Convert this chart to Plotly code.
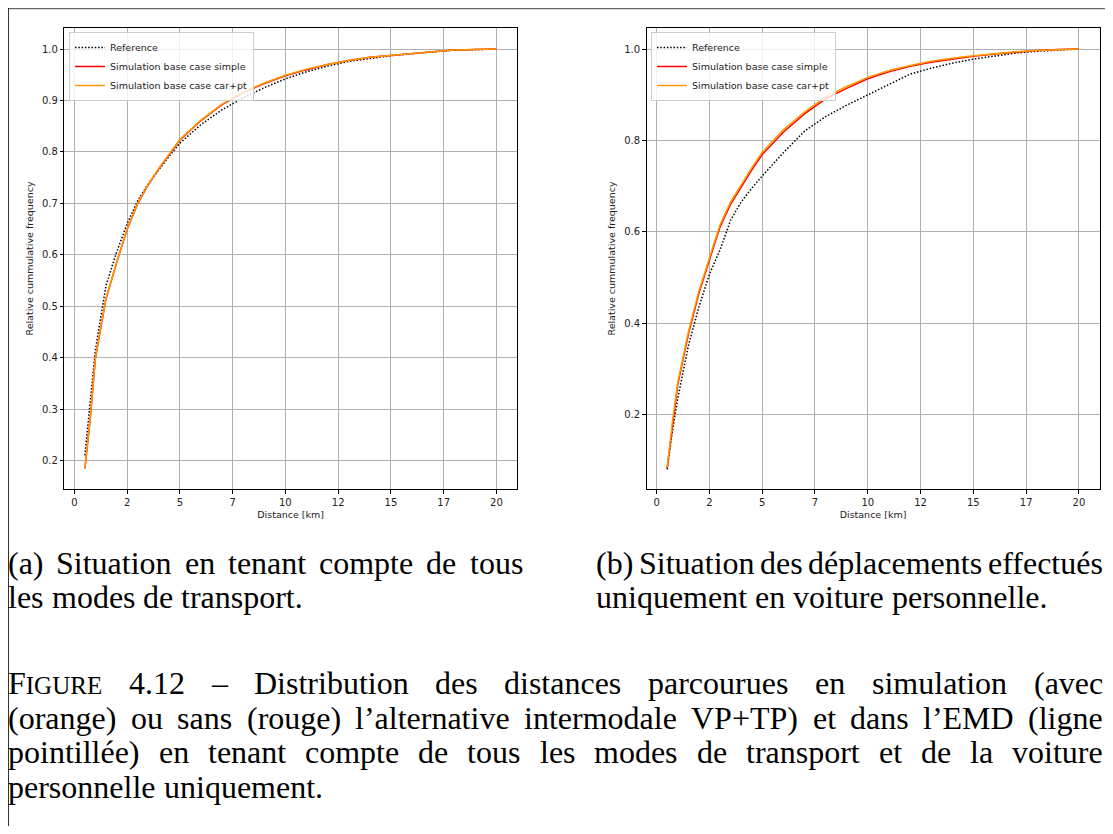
import plotly.graph_objects as go

# ---------------- data ----------------
distance_km = [0.5, 0.75, 1.0, 1.5, 2.0, 2.5, 3.0, 3.5, 4.0, 4.5, 5.0, 6.0, 7.0, 8.0,
               9.0, 10.0, 11.0, 12.0, 13.0, 14.0, 15.0, 16.0, 17.0, 18.0, 19.0, 20.0]

# (a) all transport modes
a_reference = [0.21, 0.31, 0.415, 0.54, 0.605, 0.66, 0.705, 0.738, 0.766, 0.792, 0.817, 0.853,
               0.882, 0.905, 0.925, 0.942, 0.956, 0.967, 0.976, 0.982, 0.987, 0.991, 0.995,
               0.998, 0.999, 1.0]
a_sim_simple = [0.184, 0.279, 0.399, 0.514, 0.584, 0.649, 0.699, 0.736, 0.767, 0.796, 0.823,
                0.861, 0.892, 0.915, 0.933, 0.948, 0.960, 0.970, 0.978, 0.984, 0.988, 0.992,
                0.995, 0.998, 0.999, 1.0]
a_sim_carpt = [0.185, 0.28, 0.40, 0.515, 0.585, 0.65, 0.70, 0.737, 0.768, 0.797, 0.824, 0.862,
               0.893, 0.916, 0.934, 0.949, 0.961, 0.970, 0.978, 0.984, 0.988, 0.992, 0.995,
               0.998, 0.999, 1.0]

# (b) personal car only
b_reference = [0.08, 0.165, 0.235, 0.35, 0.435, 0.507, 0.56, 0.625, 0.665, 0.695, 0.722, 0.773,
               0.82, 0.852, 0.877, 0.90, 0.922, 0.945, 0.958, 0.969, 0.978, 0.985, 0.991,
               0.995, 0.998, 1.0]
b_sim_simple = [0.083, 0.18, 0.265, 0.375, 0.465, 0.538, 0.61, 0.66, 0.698, 0.735, 0.769, 0.818,
                0.858, 0.891, 0.914, 0.935, 0.95, 0.962, 0.971, 0.978, 0.984, 0.989, 0.993,
                0.997, 0.999, 1.0]
b_sim_carpt = [0.085, 0.185, 0.27, 0.38, 0.47, 0.543, 0.615, 0.665, 0.703, 0.74, 0.774, 0.823,
               0.862, 0.895, 0.918, 0.938, 0.953, 0.964, 0.973, 0.980, 0.985, 0.990, 0.994,
               0.997, 0.999, 1.0]

series_names = ["Reference", "Simulation base case simple", "Simulation base case car+pt"]

x_tick_vals = [0, 2.5, 5, 7.5, 10, 12.5, 15, 17.5, 20]
x_tick_text = ["0", "2", "5", "7", "10", "12", "15", "17", "20"]
a_y_ticks = [0.2, 0.3, 0.4, 0.5, 0.6, 0.7, 0.8, 0.9, 1.0]
a_y_text = ["0.2", "0.3", "0.4", "0.5", "0.6", "0.7", "0.8", "0.9", "1.0"]
b_y_ticks = [0.2, 0.4, 0.6, 0.8, 1.0]
b_y_text = ["0.2", "0.4", "0.6", "0.8", "1.0"]

x_title = "Distance [km]"
y_title = "Relative cummulative frequency"

caption_a = ["(a) Situation en tenant compte de tous", "les modes de transport."]
caption_b = ["(b) Situation des déplacements effectués", "uniquement en voiture personnelle."]
figure_label = "Figure"
figure_caption = [
    "4.12 – Distribution des distances parcourues en simulation (avec",
    "(orange) ou sans (rouge) l’alternative intermodale VP+TP) et dans l’EMD (ligne",
    "pointillée) en tenant compte de tous les modes de transport et de la voiture",
    "personnelle uniquement.",
]

# ---------------- figure ----------------
OFF = 8  # browser body margin
W, H = 1113 - 2 * OFF, 834 - 2 * OFF   # stay inside the viewport
fig = go.Figure()

def py(px):
    return 1 - (px - OFF) / H

def px_x(px):
    return (px - OFF) / W

panels = [
    dict(xa="x", ya="y", legend="legend", data=(a_reference, a_sim_simple, a_sim_carpt)),
    dict(xa="x2", ya="y2", legend="legend2", data=(b_reference, b_sim_simple, b_sim_carpt)),
]
styles = [
    dict(color="black", width=1.5, dash="1.5px,1.8px"),
    dict(color="red", width=1.5),
    dict(color="#ff9900", width=1.5),
]
for p in panels:
    for name, ys, st in zip(series_names, p["data"], styles):
        fig.add_trace(go.Scatter(x=distance_km, y=ys, mode="lines", name=name,
                                 line=st, xaxis=p["xa"], yaxis=p["ya"],
                                 legend=p["legend"]))

tick_font = dict(family="DejaVu Sans", size=10, color="#222")
title_font = dict(family="DejaVu Sans", size=9.5, color="#222")
common_x = dict(range=[-0.475, 20.975], tickvals=x_tick_vals, ticktext=x_tick_text,
                showgrid=True, gridcolor="#b0b0b0", gridwidth=1, zeroline=False,
                showline=True, linecolor="black", linewidth=1, mirror=True,
                ticks="outside", ticklen=3.5, tickcolor="black", tickfont=tick_font,
                title=dict(text=x_title, font=title_font, standoff=4))
common_y = dict(showgrid=True, gridcolor="#b0b0b0", gridwidth=1, zeroline=False,
                showline=True, linecolor="black", linewidth=1, mirror=True,
                ticks="outside", ticklen=3.5, tickcolor="black", tickfont=tick_font,
                title=dict(text=y_title, font=title_font, standoff=6))

top_px, bot_px = 28, 489
legend_style = dict(xanchor="left", yanchor="top",
                    bgcolor="rgba(255,255,255,0.8)", bordercolor="#cccccc", borderwidth=1,
                    font=dict(family="DejaVu Sans", size=9.5, color="#222"),
                    tracegroupgap=0, itemwidth=30)
fig.update_layout(
    width=W, height=H, margin=dict(l=0, r=0, t=0, b=0),
    paper_bgcolor="white", plot_bgcolor="white",
    xaxis=dict(domain=[px_x(64.3), px_x(517)], anchor="y", **common_x),
    yaxis=dict(domain=[py(bot_px), py(top_px)], anchor="x", range=[0.1445, 1.041],
               tickvals=a_y_ticks, ticktext=a_y_text, **common_y),
    xaxis2=dict(domain=[px_x(646.6), px_x(1099.5)], anchor="y2", **common_x),
    yaxis2=dict(domain=[py(bot_px), py(top_px)], anchor="x2", range=[0.037, 1.046],
                tickvals=b_y_ticks, ticktext=b_y_text, **common_y),
    legend=dict(x=px_x(69), y=py(32), **legend_style),
    legend2=dict(x=px_x(651), y=py(32), **legend_style),
    showlegend=True,
)

# ---------------- justified serif captions ----------------
FS = 32          # caption font size (px)
SC = 25          # small-caps size for the "IGURE" part
# Times / Liberation Serif advance widths (1/1000 em)
ADV = {" ": 250, "(": 333, ")": 333, ".": 250, ",": 250, "’": 333, "–": 500, "+": 564,
       "a": 444, "b": 500, "c": 444, "d": 500, "e": 444, "f": 333, "g": 500, "h": 500,
       "i": 278, "j": 278, "k": 500, "l": 278, "m": 778, "n": 500, "o": 500, "p": 500,
       "q": 500, "r": 333, "s": 389, "t": 278, "u": 500, "v": 500, "w": 722, "x": 500,
       "y": 500, "z": 444, "é": 444, "è": 444,
       "A": 722, "D": 722, "E": 611, "F": 556, "G": 722, "I": 333, "M": 889, "P": 556,
       "R": 667, "S": 556, "T": 611, "U": 722, "V": 722}
for d in "0123456789":
    ADV[d] = 500

def width(s, size):
    return sum(ADV.get(c, 500) for c in s) * size / 1000.0

serif = dict(family="Liberation Serif", size=FS, color="black")
ann = []

def word_ann(text, x, yc):
    ann.append(dict(text=text, x=px_x(x), y=py(yc), xref="paper", yref="paper",
                    xanchor="left", yanchor="middle", showarrow=False, font=serif,
                    borderpad=0, borderwidth=0))

def place_line(words, x0, x1, yc, justify=True):
    total = sum(w for _, w in words)
    gap = (x1 - x0 - total) / (len(words) - 1) if justify and len(words) > 1 else width(" ", FS)
    x = x0
    for txt, w in words:
        word_ann(txt, x, yc)
        x += w + gap

def plain_words(line):
    return [(w, width(w, FS)) for w in line.split(" ")]

RIGHT = 1103
# sub-captions
place_line(plain_words(caption_a[0]), 8, 523, 563)
place_line(plain_words(caption_a[1]), 8, 523, 597, justify=False)
place_line(plain_words(caption_b[0]), 596, RIGHT, 563)
place_line(plain_words(caption_b[1]), 596, RIGHT, 597, justify=False)

# figure caption (label in small caps)
label_txt = figure_label[0] + "<span style='font-size:%dpx'>%s</span>" % (SC, figure_label[1:].upper())
label_w = width(figure_label[0], FS) + width(figure_label[1:].upper(), SC)
line_y = [683, 717.7, 752.4, 787]
for i, line in enumerate(figure_caption):
    words = plain_words(line)
    if i == 0:
        words = [(label_txt, label_w)] + words
    place_line(words, 8, RIGHT, line_y[i], justify=(i < len(figure_caption) - 1))

fig.update_layout(annotations=ann)

# page frame lines
fig.add_shape(type="line", xref="paper", yref="paper", x0=0, x1=1, y0=py(8.5), y1=py(8.5),
              line=dict(color="#666666", width=1.5))
fig.add_shape(type="line", xref="paper", yref="paper", x0=px_x(8.5), x1=px_x(8.5), y0=py(8), y1=0,
              line=dict(color="#333333", width=1))

fig.write_html("out.html")
